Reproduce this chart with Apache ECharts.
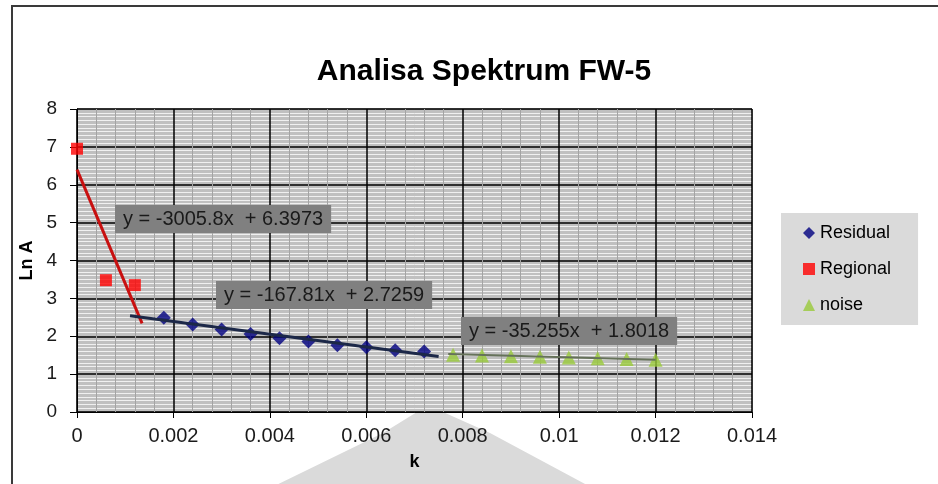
<!DOCTYPE html>
<html>
<head>
<meta charset="utf-8">
<script src="https://cdn.jsdelivr.net/npm/echarts@6/dist/echarts.min.js"></script>
<style>
  html, body { margin: 0; padding: 0; background: #fff; }
  #chart { width: 938px; height: 484px; }
</style>
</head>
<body>
<div id="chart"></div>
<script>
// titik data (k, Ln A)
const regionalK = [0, 0.0006, 0.0012];
const regionalLnA = [6.95, 3.48, 3.35];
const residualK = [0.0018, 0.0024, 0.003, 0.0036, 0.0042, 0.0048, 0.0054, 0.006, 0.0066, 0.0072];
const residualLnA = [2.49, 2.31, 2.18, 2.06, 1.95, 1.86, 1.76, 1.71, 1.63, 1.6];
const noiseK = [0.0078, 0.0084, 0.009, 0.0096, 0.0102, 0.0108, 0.0114, 0.012];
const noiseLnA = [1.51, 1.49, 1.47, 1.46, 1.44, 1.42, 1.4, 1.38];

// garis trend (slope, intercept, rentang k)
const trendSlope = [-3005.8, -167.81, -35.255];
const trendIntercept = [6.3973, 2.7259, 1.8018];
const trendFrom = [0, 0.0011, 0.0077];
const trendTo = [0.00135, 0.0075, 0.012];
const trendText = ['y = -3005.8x  + 6.3973', 'y = -167.81x  + 2.7259', 'y = -35.255x  + 1.8018'];

const FONT = 'Liberation Sans, Arial, sans-serif';

function pairs(xs, ys) {
  return xs.map((x, i) => [x, ys[i]]);
}
function trend(i) {
  return [trendFrom[i], trendTo[i]].map(x => [x, trendSlope[i] * x + trendIntercept[i]]);
}

const myChart = echarts.init(document.getElementById('chart'));

const option = {
  backgroundColor: '#fff',
  animation: false,
  title: {
    text: 'Analisa Spektrum FW-5',
    left: 479,
    textAlign: 'center',
    top: 52,
    textStyle: { fontFamily: FONT, fontSize: 30, fontWeight: 'bold', color: '#000' }
  },
  legend: {
    orient: 'vertical',
    left: 781,
    top: 213,
    padding: [11, 27, 11, 22],
    backgroundColor: '#dadada',
    itemWidth: 12,
    itemHeight: 12,
    itemGap: 18,
    textStyle: { fontFamily: FONT, fontSize: 18, lineHeight: 18, color: '#000' },
    data: ['Residual', 'Regional', 'noise']
  },
  grid: {
    left: 77, right: 186, top: 109, bottom: 72,
    show: true,
    backgroundColor: '#c0c0c0',
    borderColor: '#808080',
    borderWidth: 1
  },
  xAxis: {
    type: 'value',
    min: 0, max: 0.014, interval: 0.002,
    name: 'k',
    nameLocation: 'middle',
    nameGap: 41,
    nameTextStyle: { fontFamily: FONT, fontSize: 18, fontWeight: 'bold', color: '#000' },
    axisLine: { lineStyle: { color: '#000', width: 1 } },
    axisTick: { show: true, inside: false, length: 6, lineStyle: { color: '#000' } },
    axisLabel: { fontFamily: FONT, fontSize: 20, color: '#1a1a1a', margin: 14 },
    splitLine: { show: true, lineStyle: { color: '#000', width: 1.5 } },
    minorTick: { show: false, splitNumber: 5 },
    minorSplitLine: { show: true, lineStyle: { color: '#a4a4a4', width: 1 } }
  },
  yAxis: {
    type: 'value',
    min: 0, max: 8, interval: 1,
    name: 'Ln A',
    nameLocation: 'middle',
    nameGap: 35,
    nameTextStyle: { fontFamily: FONT, fontSize: 18, fontWeight: 'bold', color: '#000' },
    axisLine: { show: true, lineStyle: { color: '#000', width: 1 } },
    axisTick: { show: true, inside: false, length: 7, lineStyle: { color: '#000' } },
    axisLabel: { fontFamily: FONT, fontSize: 19, color: '#1a1a1a', margin: 20 },
    splitLine: { show: true, lineStyle: { color: '#000', width: 1.5 } },
    minorTick: { show: false, splitNumber: 10 },
    minorSplitLine: { show: true, lineStyle: { color: '#f0f0f0', width: 1 } }
  },
  series: [
    {
      name: 'Residual', type: 'scatter', symbol: 'diamond', symbolSize: 14,
      itemStyle: { color: '#000080' }, z: 3,
      data: pairs(residualK, residualLnA)
    },
    {
      name: 'Regional', type: 'scatter', symbol: 'rect', symbolSize: 12,
      itemStyle: { color: '#ff0000' }, z: 3,
      data: pairs(regionalK, regionalLnA)
    },
    {
      name: 'noise', type: 'scatter', symbol: 'triangle', symbolSize: 14,
      itemStyle: { color: '#99c93a' }, z: 3,
      data: pairs(noiseK, noiseLnA)
    },
    {
      name: 'trend regional', type: 'line', symbol: 'none', z: 4,
      lineStyle: { color: '#c81010', width: 3 }, data: trend(0)
    },
    {
      name: 'trend residual', type: 'line', symbol: 'none', z: 4,
      lineStyle: { color: '#1c2848', width: 3 }, data: trend(1)
    },
    {
      name: 'trend noise', type: 'line', symbol: 'none', z: 4,
      lineStyle: { color: '#66725a', width: 2 }, data: trend(2)
    }
  ],
  graphic: [
    // bingkai luar
    {
      type: 'rect', z: 100, silent: true,
      shape: { x: 12, y: 6, width: 960, height: 520 },
      style: { fill: 'none', stroke: '#3a3a3a', lineWidth: 2 }
    },
    // watermark di bawah
    {
      type: 'polygon', z: -1, silent: true,
      shape: { points: [[417, 412], [443, 412], [490, 433], [600, 492], [262, 492], [383, 433]] },
      style: { fill: '#dadada' }
    },
    // kotak persamaan
    ...[[115, 205], [216, 281], [461, 317]].map((p, i) => ({
      type: 'text', z: 50, silent: true,
      x: p[0], y: p[1],
      style: {
        text: trendText[i],
        font: '20px ' + FONT,
        fill: '#1a1a1a',
        backgroundColor: '#808080',
        padding: [4, 8],
        lineHeight: 20,
        verticalAlign: 'top'
      }
    }))
  ]
};

myChart.setOption(option);
</script>
</body>
</html>
